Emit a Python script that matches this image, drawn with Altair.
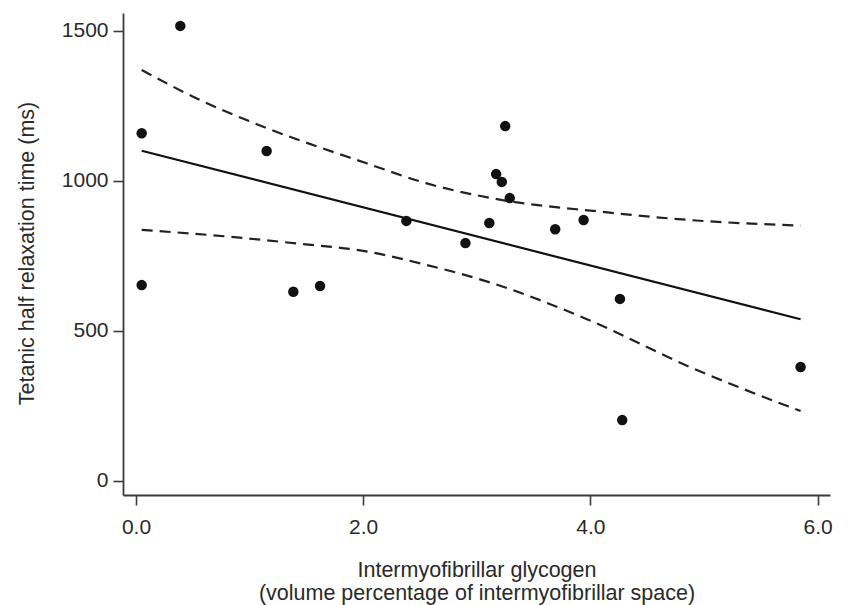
import altair as alt
import pandas as pd

# Observed data points (intermyofibrillar glycogen %, relaxation time ms)
pt_x = [0.05, 0.39, 0.05, 1.15, 1.385, 1.62, 2.38, 2.90, 3.11, 3.17, 3.22, 3.25, 3.29, 3.69, 3.94, 4.26, 4.28, 5.85]
pt_y = [1158, 1516, 652, 1099, 630, 649, 866, 792, 859, 1022, 996, 1182, 942, 838, 869, 606, 202, 379]

# Regression line endpoints
fit_x = [0.05, 5.85]
fit_y = [1100, 538]

# Confidence band curves
upper_x = [0.05, 0.53, 1.12, 2.03, 2.56, 3.14, 4.08, 4.87, 5.85]
upper_y = [1369, 1275, 1180, 1058, 991, 941, 897, 869, 850]
lower_x = [0.05, 0.83, 1.41, 2.00, 2.56, 3.14, 4.02, 4.87, 5.85]
lower_y = [836, 813, 791, 766, 719, 658, 530, 380, 232]

x_ticks = [0, 2, 4, 6]
y_ticks = [0, 500, 1000, 1500]

FONT = "Liberation Sans"
TXT = "#2a2a2a"
AX = "#3a3a3a"

pts = pd.DataFrame({"x": pt_x, "y": pt_y})
fit = pd.DataFrame({"x": fit_x, "y": fit_y})
band = pd.DataFrame({
    "x": upper_x + lower_x,
    "y": upper_y + lower_y,
    "g": ["upper"] * len(upper_x) + ["lower"] * len(lower_x),
})

xs = alt.Scale(domain=[-0.1144, 6.109], nice=False, zero=False)
ys = alt.Scale(domain=[-47.7, 1559], nice=False, zero=False)

xax = alt.Axis(
    values=x_ticks, format=".1f", grid=False, tickSize=10, tickWidth=1.6,
    tickColor=AX, domainColor=AX, domainWidth=1.8, labelPadding=11,
    labelFontSize=21, labelFont=FONT, labelColor=TXT, labelFlush=False,
    titleFontSize=21.5, titleFont=FONT, titleColor=TXT, titleFontWeight="normal",
    titleLineHeight=23, titleBaseline="alphabetic", titleY=81, titleAlign="center",
    titleX=353.5,
)
yax = alt.Axis(
    values=y_ticks, format="d", grid=False, tickSize=10, tickWidth=1.6,
    tickColor=AX, domainColor=AX, domainWidth=1.8, labelPadding=5,
    labelFontSize=21, labelFont=FONT, labelColor=TXT, labelFlush=False,
    titleFontSize=21.5, titleFont=FONT, titleColor=TXT, titleFontWeight="normal",
    titleAngle=270, titleBaseline="alphabetic", titleAlign="center",
    titleX=-90, titleY=240,
)

base_x = alt.X("x:Q", scale=xs, axis=xax,
               title=["Intermyofibrillar glycogen", "(volume percentage of intermyofibrillar space)"])
base_y = alt.Y("y:Q", scale=ys, axis=yax, title="Tetanic half relaxation time (ms)")

points = alt.Chart(pts).mark_circle(size=110, color="#111111", opacity=1).encode(x=base_x, y=base_y)
line = alt.Chart(fit).mark_line(color="#111111", strokeWidth=2.2).encode(x="x:Q", y="y:Q")
dashed = alt.Chart(band).mark_line(
    color="#222222", strokeWidth=2.2, strokeDash=[11, 7], interpolate="monotone"
).encode(x="x:Q", y="y:Q", detail="g:N", order="x:Q")

chart = alt.layer(points, line, dashed).properties(
    width=707,
    height=482,
    autosize=alt.AutoSizeParams(type="none"),
    padding={"left": 115, "top": 5, "right": 10, "bottom": 110},
).configure_view(strokeWidth=0)

chart.save("out.html", embed_options={"renderer": "svg", "actions": False})
